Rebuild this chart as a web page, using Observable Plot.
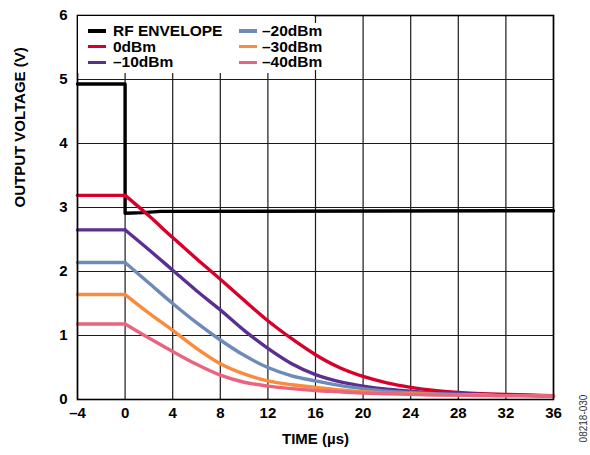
<!DOCTYPE html>
<html>
<head>
<meta charset="utf-8">
<script src="https://cdn.jsdelivr.net/npm/d3@7"></script>
<script src="https://cdn.jsdelivr.net/npm/@observablehq/plot@0.6"></script>
<style>
  body { margin: 0; background: #fff; }
  #wrap { position: relative; width: 590px; height: 455px; font-family: "Liberation Sans", Arial, sans-serif; }
  #wrap svg { position: absolute; left: 0; top: 0; }
  .lgbox { position: absolute; background: #fff; }
  .sw { position: absolute; width: 18px; height: 3.2px; }
  .lt { position: absolute; font-size: 15.5px; font-weight: bold; line-height: 15.6px; white-space: nowrap; background: #fff; color: #000; }
</style>
</head>
<body>
<div id="wrap"></div>
<script>
// ---- data ----
const time = [-4, 0, 2, 4, 6, 8, 10, 12, 14, 16, 18, 20, 22, 24, 26, 28, 30, 32, 34, 36];
const seriesNames = ["0dBm", "\u201310dBm", "\u201320dBm", "\u201330dBm", "\u201340dBm"];
const v0dBm   = [3.19, 3.19, 2.87, 2.53, 2.20, 1.88, 1.55, 1.23, 0.95, 0.70, 0.50, 0.36, 0.26, 0.19, 0.14, 0.11, 0.09, 0.08, 0.07, 0.06];
const vM10dBm = [2.65, 2.65, 2.34, 2.02, 1.70, 1.40, 1.08, 0.80, 0.56, 0.39, 0.28, 0.21, 0.16, 0.13, 0.10, 0.09, 0.08, 0.07, 0.06, 0.05];
const vM20dBm = [2.14, 2.14, 1.82, 1.50, 1.20, 0.93, 0.69, 0.50, 0.37, 0.29, 0.22, 0.17, 0.13, 0.11, 0.09, 0.08, 0.07, 0.06, 0.06, 0.05];
const vM30dBm = [1.64, 1.64, 1.35, 1.08, 0.80, 0.56, 0.40, 0.29, 0.23, 0.19, 0.15, 0.12, 0.10, 0.09, 0.08, 0.07, 0.07, 0.06, 0.06, 0.05];
const vM40dBm = [1.18, 1.18, 0.96, 0.75, 0.55, 0.38, 0.27, 0.21, 0.17, 0.14, 0.12, 0.10, 0.09, 0.08, 0.07, 0.07, 0.06, 0.06, 0.06, 0.05];
const rfName = "RF ENVELOPE";
const rfTime = [-4, 0, 0, 1.5, 3, 36];
const rfVolt = [4.93, 4.93, 2.91, 2.92, 2.94, 2.95];
const seriesColors = ["#d8002b", "#5b2e91", "#6e8ab8", "#fb8a3c", "#e9657f"];
const xTicks = [-4, 0, 4, 8, 12, 16, 20, 24, 28, 32, 36];
const yTicks = [0, 1, 2, 3, 4, 5, 6];
const xTitle = "TIME (\u00b5s)";
const yTitle = "OUTPUT VOLTAGE (V)";
const figId = "08218-030";

// ---- build tables ----
const seriesValues = [v0dBm, vM10dBm, vM20dBm, vM30dBm, vM40dBm];
const rows = [];
seriesValues.forEach((vals, i) => vals.forEach((v, j) => rows.push({series: seriesNames[i], t: time[j], v})));
const flatRows = rows.filter(d => d.t <= 0);
const decayRows = rows.filter(d => d.t >= 0);
const rf = rfTime.map((t, i) => ({t, v: rfVolt[i]}));
const fmt = d => d < 0 ? "\u2013" + Math.abs(d) : String(d);

const chart = Plot.plot({
  width: 590, height: 455,
  marginLeft: 77, marginRight: 37, marginTop: 15, marginBottom: 56,
  style: {fontFamily: "'Liberation Sans', Arial, sans-serif", fontSize: "15px", fontWeight: "bold", color: "#000", background: "#fff"},
  x: {domain: [-4, 36], label: null},
  y: {domain: [0, 6], label: null},
  color: {domain: seriesNames, range: seriesColors},
  marks: [
    Plot.gridX(xTicks, {stroke: "#1a1a1a", strokeOpacity: 1, strokeWidth: 1.2}),
    Plot.gridY(yTicks, {stroke: "#1a1a1a", strokeOpacity: 1, strokeWidth: 1.2}),
    Plot.axisX(xTicks, {tickSize: 0, tickPadding: 8, tickFormat: fmt, label: null, fontSize: 15, fontWeight: "bold"}),
    Plot.axisY(yTicks, {tickSize: 0, tickPadding: 10, tickFormat: d => String(d), label: null, fontSize: 15, fontWeight: "bold"}),
    Plot.line(rf, {x: "t", y: "v", stroke: "#000", strokeWidth: 3.4}),
    Plot.line(flatRows, {x: "t", y: "v", z: "series", stroke: "series", strokeWidth: 3.4}),
    Plot.line(decayRows, {x: "t", y: "v", z: "series", stroke: "series", strokeWidth: 3.4, curve: "monotone-x"}),
    Plot.frame({stroke: "#000", strokeWidth: 1.6}),
    Plot.text([xTitle], {text: d => d, frameAnchor: "bottom", dy: 44, fontSize: 15, fontWeight: "bold", fill: "#000"}),
    Plot.text([yTitle], {text: d => d, frameAnchor: "left", dx: -57, rotate: -90, fontSize: 15, fontWeight: "bold", fill: "#000"}),
    Plot.text([figId], {text: d => d, frameAnchor: "bottom-right", dx: 30, dy: 19, rotate: -90, textAnchor: "middle", lineAnchor: "middle", fontSize: 10, fontWeight: "normal", fill: "#333"})
  ]
});

const wrap = document.getElementById("wrap");
wrap.appendChild(chart);

// ---- legend overlay (inside plot, top-left) ----
const box = document.createElement("div");
box.className = "lgbox";
Object.assign(box.style, {left: "78px", top: "16px", width: "236px", height: "57px"});
wrap.appendChild(box);
const legLabels = [rfName, ...seriesNames];
const legColors = ["#000", ...seriesColors];
legLabels.forEach((lab, i) => {
  const col = Math.floor(i / 3), row = i % 3;
  const cy = 31 + row * 15.6;
  const sw = document.createElement("div");
  sw.className = "sw";
  sw.style.left = (88 + col * 151) + "px";
  sw.style.top = (cy - 1.6) + "px";
  sw.style.background = legColors[i];
  wrap.appendChild(sw);
  const t = document.createElement("div");
  t.className = "lt";
  t.textContent = lab;
  t.style.left = (113 + col * 149) + "px";
  t.style.top = (cy - 7.8) + "px";
  wrap.appendChild(t);
});
</script>
</body>
</html>
